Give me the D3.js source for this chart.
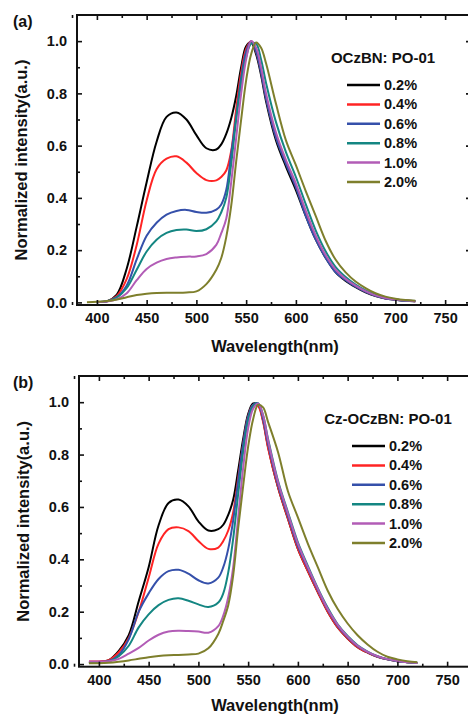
<!DOCTYPE html>
<html>
  <head>
    <meta charset="utf-8" />
    <style>
      body { margin: 0; background: #fff; }
      text { font-family: "Liberation Sans", Arial, sans-serif; font-weight: bold; fill: #111; }
    </style>
  </head>
  <body>

<svg id="graph" width="468" height="715"></svg>

<script src="https://d3js.org/d3.v7.min.js"></script>
<script>
  // wavelength grid (nm) shared by every spectrum
  const WL = [390, 400, 410, 420, 430, 440, 450, 460, 470, 480, 490, 500, 510, 520, 525, 530, 535, 540, 545, 550,
              555, 560, 565, 570, 580, 590, 600, 610, 620, 630, 640, 650, 660, 670, 680, 690, 700, 710, 720];

  const LABELS = ['0.2%', '0.4%', '0.6%', '0.8%', '1.0%', '2.0%'];
  const COLORS = ['#000000', '#ff2424', '#3550aa', '#148682', '#b25cb6', '#7e7f2c'];

  const X_TICKS = [400, 450, 500, 550, 600, 650, 700, 750];
  const Y_TICKS = [0, 0.2, 0.4, 0.6, 0.8, 1.0];

  // (a) OCzBN: PO-01
  const A_02 = [null, 0.002, 0.004, 0.03, 0.13, 0.29, 0.46, 0.615, 0.71, 0.727, 0.70, 0.64, 0.59, 0.585, 0.605, 0.645, 0.705, 0.79, 0.9, 0.98,
                0.995, 0.95, 0.87, 0.77, 0.62, 0.52, 0.43, 0.33, 0.24, 0.17, 0.115, 0.082, 0.058, 0.038, 0.024, 0.015, 0.01, 0.006, 0.004];
  const A_04 = [null, 0.002, 0.004, 0.025, 0.09, 0.22, 0.39, 0.51, 0.55, 0.559, 0.535, 0.495, 0.468, 0.467, 0.48, 0.505, 0.58, 0.74, 0.88, 0.97,
                1.0, 0.96, 0.885, 0.785, 0.635, 0.535, 0.445, 0.34, 0.245, 0.175, 0.12, 0.087, 0.062, 0.041, 0.026, 0.016, 0.011, 0.007, 0.004];
  const A_06 = [null, 0.001, 0.004, 0.02, 0.065, 0.165, 0.255, 0.305, 0.336, 0.35, 0.354, 0.346, 0.343, 0.355, 0.375, 0.43, 0.57, 0.71, 0.86, 0.96,
                1.0, 0.96, 0.88, 0.78, 0.63, 0.53, 0.44, 0.33, 0.24, 0.17, 0.115, 0.085, 0.06, 0.04, 0.025, 0.015, 0.01, 0.006, 0.004];
  const A_08 = [null, 0.001, 0.004, 0.018, 0.055, 0.125, 0.195, 0.24, 0.266, 0.277, 0.279, 0.273, 0.28, 0.31, 0.345, 0.40, 0.53, 0.70, 0.84, 0.94,
                0.99, 0.99, 0.93, 0.84, 0.69, 0.575, 0.48, 0.375, 0.275, 0.195, 0.135, 0.097, 0.068, 0.046, 0.029, 0.018, 0.012, 0.007, 0.005];
  const A_10 = [null, 0.001, 0.003, 0.012, 0.035, 0.085, 0.128, 0.152, 0.166, 0.172, 0.175, 0.176, 0.185, 0.22, 0.265, 0.32, 0.46, 0.63, 0.80, 0.93,
                1.0, 0.975, 0.9, 0.8, 0.65, 0.545, 0.455, 0.35, 0.255, 0.18, 0.125, 0.09, 0.064, 0.043, 0.027, 0.017, 0.011, 0.007, 0.004];
  const A_20 = [0.001, 0.002, 0.005, 0.011, 0.02, 0.028, 0.033, 0.036, 0.037, 0.037, 0.038, 0.042, 0.07, 0.125, 0.17, 0.25, 0.37, 0.54, 0.70, 0.85,
                0.95, 0.995, 0.975, 0.915, 0.76, 0.62, 0.525, 0.425, 0.33, 0.235, 0.163, 0.115, 0.08, 0.055, 0.035, 0.022, 0.014, 0.009, 0.006];

  // (b) Cz-OCzBN: PO-01
  const B_02 = [0.008, 0.008, 0.015, 0.05, 0.11, 0.24, 0.37, 0.53, 0.615, 0.628, 0.602, 0.545, 0.51, 0.515, 0.532, 0.57, 0.628, 0.74, 0.86, 0.955,
                0.995, 0.99, 0.93, 0.83, 0.675, 0.555, 0.44, 0.355, 0.275, 0.20, 0.14, 0.098, 0.065, 0.044, 0.028, 0.018, 0.011, 0.007, 0.004];
  const B_04 = [0.01, 0.01, 0.015, 0.045, 0.10, 0.20, 0.33, 0.46, 0.515, 0.522, 0.508, 0.47, 0.44, 0.445, 0.47, 0.51, 0.58, 0.71, 0.84, 0.945,
                0.99, 0.985, 0.925, 0.825, 0.675, 0.555, 0.44, 0.355, 0.275, 0.20, 0.14, 0.098, 0.065, 0.044, 0.028, 0.018, 0.011, 0.007, 0.004];
  const B_06 = [0.008, 0.008, 0.012, 0.035, 0.095, 0.20, 0.27, 0.325, 0.355, 0.36, 0.345, 0.32, 0.308, 0.33, 0.37, 0.44, 0.55, 0.70, 0.84, 0.945,
                0.99, 0.995, 0.935, 0.84, 0.685, 0.565, 0.45, 0.365, 0.283, 0.207, 0.146, 0.102, 0.068, 0.046, 0.029, 0.018, 0.011, 0.007, 0.004];
  const B_08 = [0.006, 0.006, 0.01, 0.03, 0.07, 0.14, 0.19, 0.225, 0.245, 0.251, 0.242, 0.228, 0.218, 0.235, 0.27, 0.35, 0.48, 0.65, 0.81, 0.93,
                0.985, 0.995, 0.95, 0.86, 0.70, 0.58, 0.465, 0.375, 0.29, 0.215, 0.152, 0.107, 0.072, 0.048, 0.03, 0.019, 0.012, 0.007, 0.005];
  const B_10 = [0.01, 0.01, 0.011, 0.02, 0.04, 0.062, 0.09, 0.112, 0.124, 0.127, 0.126, 0.124, 0.12, 0.145, 0.185, 0.255, 0.37, 0.56, 0.75, 0.90,
                0.975, 0.995, 0.95, 0.855, 0.695, 0.575, 0.46, 0.37, 0.287, 0.21, 0.15, 0.105, 0.07, 0.047, 0.03, 0.019, 0.012, 0.007, 0.004];
  const B_20 = [0.003, 0.003, 0.005, 0.009, 0.014, 0.02, 0.026, 0.031, 0.034, 0.035, 0.037, 0.04, 0.06, 0.115, 0.165, 0.225, 0.34, 0.52, 0.68, 0.83,
                0.935, 0.99, 0.98, 0.925, 0.81, 0.66, 0.56, 0.46, 0.37, 0.28, 0.21, 0.155, 0.11, 0.075, 0.047, 0.028, 0.018, 0.011, 0.007];

  const svg = d3.select('#graph');

  function drawPanel(p) {
    const x = d3.scaleLinear().domain([380, 776]).range([p.left, p.left + 394]);
    const y = d3.scaleLinear().domain([-0.01, 1.1]).range([p.bottom, p.top]);
    const g = svg.append('g');

    // spectra
    const line = d3.line()
      .defined(d => d[1] != null)
      .x(d => x(d[0]))
      .y(d => y(d[1]))
      .curve(d3.curveCatmullRom.alpha(0.5));

    p.series.forEach((s, i) => {
      g.append('path')
        .datum(WL.map((w, j) => [w, s[j]]))
        .attr('fill', 'none')
        .attr('stroke', COLORS[i])
        .attr('stroke-width', 2)
        .attr('d', line);
    });

    // axes, ticks point inward
    const minorX = d3.range(375, 800, 50);
    const minorY = [0.1, 0.3, 0.5, 0.7, 0.9];
    const fmt = d3.format('.1f');

    const addAxis = (axis, tr, labels) => {
      const a = g.append('g').attr('transform', tr).call(axis);
      a.select('.domain').remove();
      a.selectAll('line').attr('stroke', '#111').attr('stroke-width', 1.6);
      a.selectAll('text').style('font-size', '14.5px');
      if (!labels) a.selectAll('text').remove();
      return a;
    };

    addAxis(d3.axisBottom(x).tickValues(X_TICKS).tickSize(-5).tickPadding(8), `translate(0,${p.bottom})`, true);
    addAxis(d3.axisBottom(x).tickValues(minorX).tickSize(-3), `translate(0,${p.bottom})`, false);
    addAxis(d3.axisTop(x).tickValues(X_TICKS).tickSize(-5), `translate(0,${p.top})`, false);
    addAxis(d3.axisTop(x).tickValues(minorX).tickSize(-3), `translate(0,${p.top})`, false);
    addAxis(d3.axisLeft(y).tickValues(Y_TICKS).tickFormat(fmt).tickSize(-5).tickPadding(10), `translate(${p.left},0)`, true);
    addAxis(d3.axisLeft(y).tickValues(minorY).tickSize(-3), `translate(${p.left},0)`, false);
    addAxis(d3.axisRight(y).tickValues(Y_TICKS).tickSize(-5), `translate(${x.range()[1]},0)`, false);
    addAxis(d3.axisRight(y).tickValues(minorY).tickSize(-3), `translate(${x.range()[1]},0)`, false);

    g.append('rect')
      .attr('x', p.left).attr('y', p.top)
      .attr('width', x.range()[1] - p.left).attr('height', p.bottom - p.top)
      .attr('fill', 'none').attr('stroke', '#111').attr('stroke-width', 2);

    // titles
    g.append('text')
      .attr('x', 275).attr('y', p.bottom + p.xTitleDy)
      .attr('text-anchor', 'middle').style('font-size', '16.5px')
      .text('Wavelength(nm)');
    g.append('text')
      .attr('transform', `translate(${p.yTitleX},${(p.top + p.bottom) / 2}) rotate(-90)`)
      .attr('text-anchor', 'middle').style('font-size', '16.5px')
      .text('Normalized intensity(a.u.)');
    g.append('text')
      .attr('x', 13).attr('y', p.top + 12)
      .style('font-size', '16px')
      .text(p.tag);

    // legend
    const lg = g.append('g');
    lg.append('text')
      .attr('x', p.legX + 36).attr('y', p.legY - 22)
      .attr('text-anchor', 'middle').style('font-size', '15px')
      .text(p.legTitle);
    LABELS.forEach((lab, i) => {
      const ly = p.legY + i * 19.4;
      lg.append('line')
        .attr('x1', p.legX).attr('x2', p.legX + 33)
        .attr('y1', ly).attr('y2', ly)
        .attr('stroke', COLORS[i]).attr('stroke-width', 2.5);
      lg.append('text')
        .attr('x', p.legX + 37).attr('y', ly + 5)
        .style('font-size', '14.5px')
        .text(lab);
    });
  }

  drawPanel({
    left: 77, top: 15, bottom: 305, tag: '(a)', yTitleX: 27, xTitleDy: 47,
    legTitle: 'OCzBN: PO-01', legX: 347, legY: 85,
    series: [A_02, A_04, A_06, A_08, A_10, A_20]
  });
  drawPanel({
    left: 79, top: 376, bottom: 666.7, tag: '(b)', yTitleX: 29, xTitleDy: 44,
    legTitle: 'Cz-OCzBN: PO-01', legX: 352, legY: 446,
    series: [B_02, B_04, B_06, B_08, B_10, B_20]
  });
</script>
  </body>
</html>
